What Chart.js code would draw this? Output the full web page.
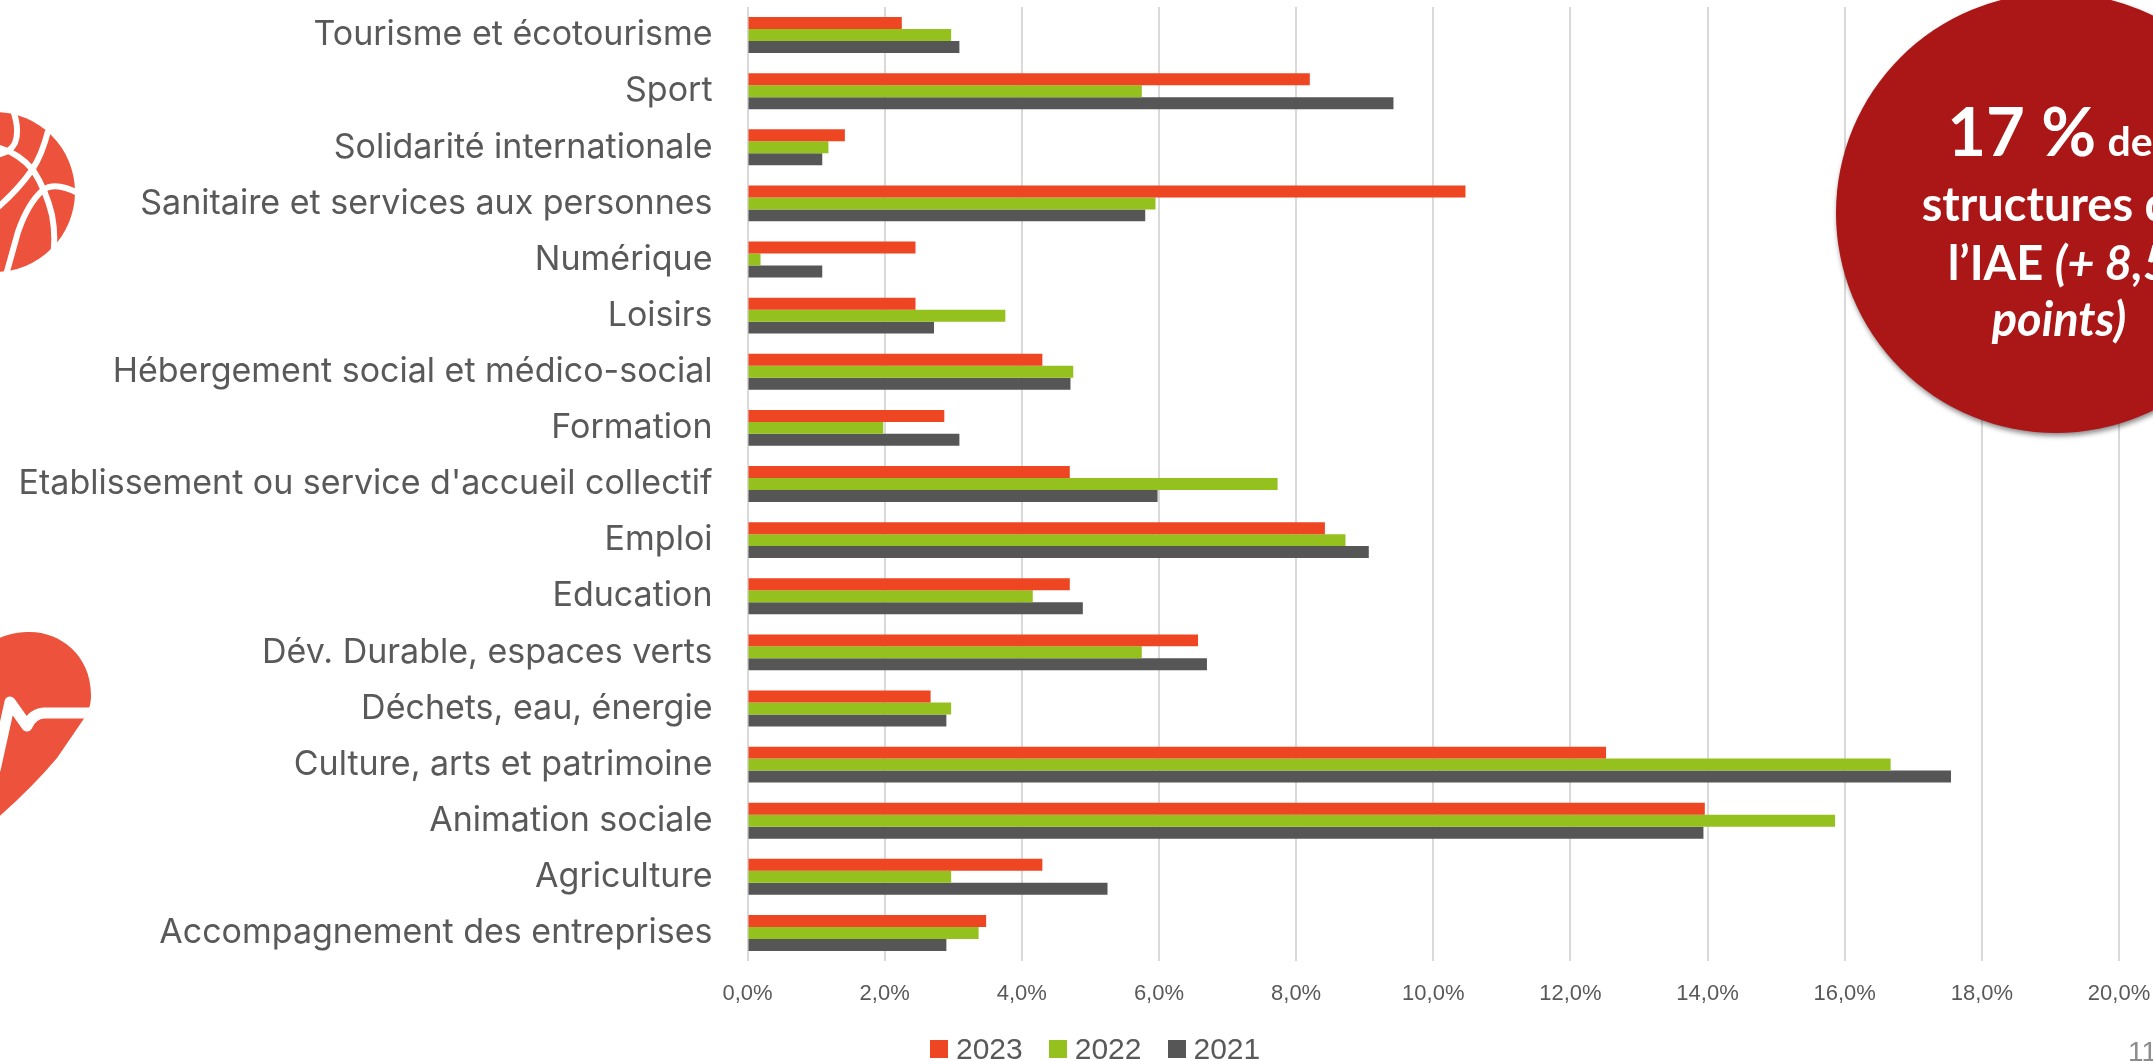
<!DOCTYPE html>
<html lang="fr">
<head>
<meta charset="utf-8">
<title>Répartition par secteur</title>
<script src="https://cdn.jsdelivr.net/npm/chart.js@4/dist/chart.umd.min.js"></script>
<style>
html, body { margin: 0; padding: 0; background: #fff; }
body { position: relative; width: 2153px; height: 1061px; overflow: hidden; }
#myChart { position: absolute; left: 0; top: 0; }
.icon { position: absolute; left: 0; top: 0; }
#circle {
    position: absolute; left: 1836px; top: -7px; width: 440px; height: 440px;
    border-radius: 50%; background: #ab1716;
    box-shadow: 1px 3px 5px rgba(0, 0, 0, .45);
}
.line {
    position: absolute; left: 1759px; width: 600px; text-align: center; color: #fff;
    font-family: Lato, sans-serif; font-weight: 700; font-size: 47px; line-height: 60px; white-space: nowrap;
}
.big { font-size: 67px; }
#legend {
    position: absolute; left: 930px; top: 1031px; display: flex;
    font: 30px "Liberation Sans", sans-serif; color: #595959; line-height: 36px;
}
#legend div { display: flex; align-items: center; margin-right: 26px; }
#legend i { display: block; width: 18px; height: 18px; margin-right: 8px; }
#page { position: absolute; left: 2128px; top: 1036px; font: 28px "Liberation Sans", sans-serif; color: #8c8c8c; }
</style>
</head>
<body>
<canvas id="myChart" width="2153" height="1061"></canvas>

<svg class="icon" width="100" height="290" viewBox="0 0 100 290">
    <circle cx="-5" cy="192" r="80" fill="#ec523c"/>
    <g fill="none" stroke="#fff" stroke-width="6">
        <path d="M13 110 Q20 130 15 143 Q10 153 -4 155"/>
        <path d="M48 131 Q42 155 32 170 Q18 190 -4 209"/>
        <path d="M-4 147 Q18 152 33 170 Q46 190 52 215 Q56 236 53 256"/>
        <path d="M78 193 Q55 181 43 190 Q28 203 18 232 L6 275"/>
    </g>
</svg>
<svg class="icon" style="top:620px" width="100" height="210" viewBox="0 620 100 210">
    <path d="M-5 640 C10 633 20 632 30 632 C60 632 91 655 91 695 C91 702 90 710 83 720 L57 758 Q30 790 -5 820 Z" fill="#ec523c"/>
    <path d="M-5 770 L10 702 L27 726 Q32 714 44 713 L95 713" fill="none" stroke="#fff" stroke-width="11" stroke-linejoin="round"/>
</svg>

<div id="circle"></div>
<div class="line" style="top:100px"><span class="big">17 %</span> <span style="font-size:41px">des</span></div>
<div class="line" style="top:173px">structures de</div>
<div class="line" style="top:232px">l’IAE <em>(+ 8,5</em></div>
<div class="line" style="top:288px"><em>points)</em></div>

<div id="legend"></div>
<div id="page">11</div>

<script>
const labels = [
    'Tourisme et écotourisme',
    'Sport',
    'Solidarité internationale',
    'Sanitaire et services aux personnes',
    'Numérique',
    'Loisirs',
    'Hébergement social et médico-social',
    'Formation',
    "Etablissement ou service d'accueil collectif",
    'Emploi',
    'Education',
    'Dév. Durable, espaces verts',
    'Déchets, eau, énergie',
    'Culture, arts et patrimoine',
    'Animation sociale',
    'Agriculture',
    'Accompagnement des entreprises',
];

const values2023 = [2.25, 8.2, 1.42, 10.47, 2.45, 2.45, 4.3, 2.87, 4.7, 8.42, 4.7, 6.57, 2.67, 12.52, 13.96, 4.3, 3.48];
const values2022 = [2.97, 5.75, 1.18, 5.95, 0.19, 3.76, 4.75, 1.98, 7.73, 8.72, 4.16, 5.75, 2.97, 16.67, 15.86, 2.97, 3.37];
const values2021 = [3.09, 9.42, 1.09, 5.8, 1.09, 2.72, 4.71, 3.09, 5.98, 9.06, 4.89, 6.7, 2.9, 17.55, 13.94, 5.25, 2.9];

const data = {
    labels: labels,
    datasets: [
        { label: '2023', backgroundColor: '#ee4623', data: values2023 },
        { label: '2022', backgroundColor: '#95c11f', data: values2022 },
        { label: '2021', backgroundColor: '#565656', data: values2021 },
    ]
};

const config = {
    type: 'bar',
    data: data,
    options: {
        indexAxis: 'y',
        responsive: false,
        animation: false,
        devicePixelRatio: 1,
        layout: { padding: { top: 7, right: 34, left: 0, bottom: 0 } },
        categoryPercentage: 0.64,
        barPercentage: 1,
        plugins: {
            legend: { display: false },
            tooltip: { enabled: false },
        },
        scales: {
            x: {
                min: 0,
                max: 20,
                afterFit: function (axis) {
                    axis.height = 100;
                    // tick padding would otherwise shrink the plot area
                    axis.paddingLeft = 0;
                    axis.paddingRight = 0;
                },
                grid: { color: '#d9d9d9', lineWidth: 2, drawTicks: false },
                border: { display: false },
                ticks: {
                    stepSize: 2,
                    padding: 20,
                    color: '#595959',
                    font: { family: 'Liberation Sans', size: 22 },
                    callback: function (value) {
                        return value.toFixed(1).replace('.', ',') + '%';
                    },
                },
            },
            y: {
                afterFit: function (axis) {
                    axis.width = 747.5;
                    axis.paddingTop = 0;
                    axis.paddingBottom = 0;
                },
                grid: { display: false },
                border: { display: false },
                ticks: {
                    autoSkip: false,
                    padding: 27,
                    color: '#595959',
                    font: { family: 'Inter', size: 34 },
                },
            },
        },
    },
};

const myChart = new Chart(document.getElementById('myChart'), config);

// legend built from the datasets, the box/text gap of the native one is too wide
const legend = document.getElementById('legend');
myChart.data.datasets.forEach(function (ds) {
    const item = document.createElement('div');
    const box = document.createElement('i');
    box.style.background = ds.backgroundColor;
    item.appendChild(box);
    item.appendChild(document.createTextNode(ds.label));
    legend.appendChild(item);
});
</script>
</body>
</html>
